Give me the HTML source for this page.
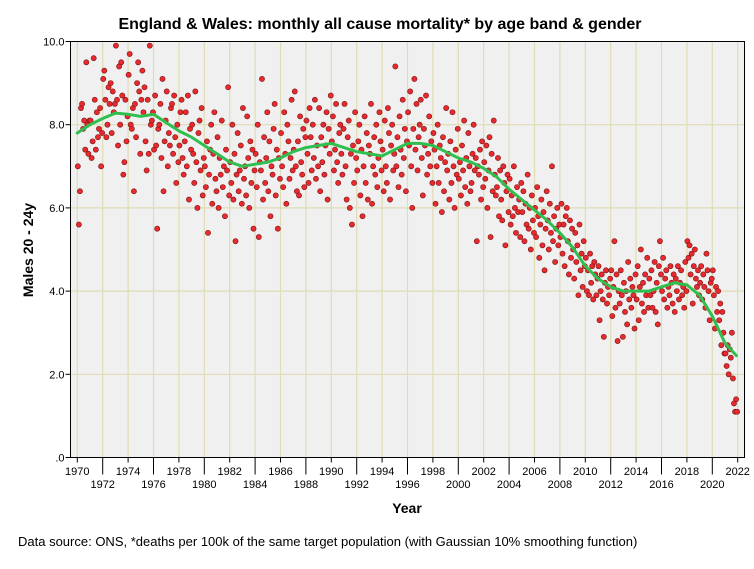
<!DOCTYPE html>
<html><head><meta charset="utf-8"><style>
body{margin:0;background:#fff;}
svg text{font-family:"Liberation Sans",sans-serif;}
</style></head><body>
<svg id="chart" width="754" height="564" xmlns="http://www.w3.org/2000/svg">
<rect width="754" height="564" fill="#fff"/>
<text x="380" y="29" text-anchor="middle" font-size="16" font-weight="bold">England &amp; Wales: monthly all cause mortality* by age band &amp; gender</text>
<rect x="70.5" y="41.5" width="674" height="416" fill="#f0f0f0"/>
<g id="grid"></g>
<g id="axes"></g>
<g id="points"></g>
<g id="smooth"></g>
<rect x="70.5" y="41.5" width="674" height="416" fill="none" stroke="#000" stroke-width="1"/>
<text transform="translate(33,250) rotate(-90)" text-anchor="middle" font-size="14" font-weight="bold">Males 20 - 24y</text>
<text x="407" y="513" text-anchor="middle" font-size="14" font-weight="bold">Year</text>
<text x="18" y="546" font-size="13">Data source: ONS, *deaths per 100k of the same target population (with Gaussian 10% smoothing function)</text>
</svg>
<script>
const startYear = 1970;
const yTicks = [0, 2, 4, 6, 8, 10];
const yTickLabels = [".0", "2.0", "4.0", "6.0", "8.0", "10.0"];
const xTicks = [1970,1972,1974,1976,1978,1980,1982,1984,1986,1988,1990,1992,1994,1996,1998,2000,2002,2004,2006,2008,2010,2012,2014,2016,2018,2020,2022];
const monthly = [
7.0,5.6,6.4,8.4,8.5,7.9,8.1,7.4,9.5,8.0,7.3,8.1,
8.1,7.2,7.6,9.6,8.6,7.4,8.3,7.7,7.9,8.4,7.0,7.8,
9.1,9.3,8.6,7.7,8.0,8.9,8.5,9.0,7.8,8.8,8.3,8.5,
9.9,8.6,7.5,9.4,8.0,9.5,8.7,6.8,7.1,8.6,7.6,8.2,
9.2,9.7,8.0,7.9,8.4,6.4,8.5,7.7,9.0,9.5,8.8,7.3,
8.6,9.3,8.3,8.9,7.6,6.9,8.6,7.3,9.9,8.0,8.1,8.3,
7.4,8.7,7.5,5.5,7.9,8.0,8.5,7.2,9.1,6.4,7.6,8.1,
8.8,7.0,7.8,7.5,8.4,8.5,7.3,8.7,7.7,6.6,8.0,7.1,
7.5,8.3,8.6,7.2,6.8,7.6,8.3,7.0,8.7,6.2,7.9,7.4,
8.0,7.3,6.6,8.8,7.1,6.0,7.8,8.1,6.9,8.4,6.3,7.2,
7.0,6.5,7.6,5.4,6.8,7.4,8.0,6.1,7.3,8.3,6.7,6.4,
7.7,6.0,7.2,6.8,8.1,6.5,7.0,5.8,7.4,6.9,8.9,6.3,
7.1,6.6,8.0,6.2,7.3,5.2,6.8,7.8,6.4,6.9,7.5,6.1,
8.4,6.7,7.0,6.3,8.2,7.2,6.0,7.6,6.6,7.4,5.5,6.9,
7.3,6.5,8.0,5.3,7.1,6.9,9.1,6.2,7.7,6.6,7.2,8.3,
6.4,7.6,5.8,7.0,6.8,7.9,8.5,6.3,7.4,5.5,7.2,6.7,
7.8,7.0,6.5,8.3,7.3,6.1,8.0,7.6,6.7,7.2,8.6,6.9,
7.4,8.8,7.0,6.4,7.6,6.3,8.2,7.1,6.8,7.9,6.5,7.7,
8.1,7.3,6.6,8.4,7.7,6.9,8.0,7.2,8.6,6.7,7.5,7.0,
8.4,6.4,7.7,7.1,8.0,6.8,7.5,8.3,6.2,7.9,7.3,8.7,
7.6,8.2,6.9,7.4,8.5,7.1,6.6,7.8,8.0,7.3,6.8,7.9,
8.5,7.0,6.2,7.7,8.1,6.0,7.3,5.6,7.5,6.6,8.3,7.2,
6.9,7.6,8.0,6.3,7.4,5.8,7.0,8.2,6.6,7.8,6.2,7.5,
7.3,8.5,6.1,7.0,7.7,6.8,8.0,6.5,7.2,8.3,7.6,6.9,
7.4,6.4,8.1,7.0,6.6,8.4,7.8,6.2,7.5,8.0,6.9,7.3,
9.4,7.0,7.7,6.5,8.2,7.4,6.8,8.6,7.2,7.9,6.4,7.6,
8.3,7.5,8.8,7.0,6.0,7.9,9.1,7.4,8.5,6.9,7.7,8.0,
8.6,7.2,6.3,7.9,7.5,8.7,6.8,7.3,8.2,7.0,7.6,6.6,
7.8,7.4,6.1,7.0,8.0,6.6,7.5,7.2,5.9,7.7,6.4,7.1,
8.4,6.9,7.3,6.2,7.6,6.6,8.3,7.0,6.0,7.4,6.8,7.9,
6.7,7.1,6.3,7.5,6.9,8.1,6.5,7.2,6.1,7.8,7.0,6.4,
6.6,7.3,8.0,6.9,7.2,5.2,7.0,6.8,7.4,6.2,7.6,6.5,
7.1,6.7,7.5,6.0,6.9,7.7,5.3,7.3,6.4,8.1,6.8,6.3,
6.5,7.2,5.8,6.9,6.2,5.7,7.0,6.6,5.1,6.4,6.8,5.9,
6.7,5.6,6.3,5.8,7.0,6.0,5.4,6.5,5.9,6.2,5.3,6.6,
5.9,6.4,5.2,6.1,5.6,6.8,5.5,6.0,5.0,6.3,5.7,5.4,
6.0,5.3,6.5,5.8,4.8,5.6,6.2,5.1,5.9,4.5,5.5,6.4,
5.7,5.0,6.1,5.4,7.0,5.2,5.8,4.7,5.5,6.0,5.1,5.6,
5.3,6.1,4.9,5.6,4.6,5.8,6.0,5.2,4.4,5.7,4.8,5.5,
5.0,4.3,5.4,4.7,5.1,3.9,5.6,4.5,4.9,4.1,5.2,4.6,
4.8,4.0,4.5,3.9,4.9,4.2,4.6,3.8,4.7,4.4,3.9,4.3,
4.6,3.3,4.0,4.4,3.8,2.9,4.2,4.5,3.7,4.1,3.9,4.3,
4.5,3.4,4.1,5.2,3.6,4.4,2.8,4.0,3.7,4.5,3.9,2.9,
4.2,3.5,4.0,3.2,4.7,3.8,4.3,3.6,4.1,3.9,3.1,4.4,
3.8,4.6,3.3,4.1,5.0,3.7,4.2,3.5,4.4,3.9,4.8,3.6,
4.3,3.9,4.5,3.6,4.0,4.7,3.5,4.2,3.2,4.6,5.2,4.4,
4.0,4.8,3.8,4.3,4.5,3.6,4.1,3.9,4.6,4.2,3.7,4.4,
3.5,4.3,4.0,4.6,3.8,4.2,4.5,3.9,4.1,3.6,4.7,4.0,
5.2,4.8,5.1,4.4,4.9,3.7,4.6,5.0,4.3,4.1,4.5,3.9,
4.2,4.6,3.8,4.4,4.1,3.6,4.9,4.5,4.0,3.3,4.2,4.3,
4.5,3.9,3.1,4.1,3.5,4.0,3.3,3.7,2.7,3.5,3.0,2.5,
2.5,2.2,2.7,2.0,2.6,2.4,3.0,1.9,1.3,1.1,1.4,1.1];
const smoothYears = [1970,1971,1972,1973,1974,1975,1976,1977,1978,1979,1980,1981,1982,1983,1984,1985,1986,1987,1988,1989,1990,1991,1992,1993,1994,1995,1996,1997,1998,1999,2000,2001,2002,2003,2004,2005,2006,2007,2008,2009,2010,2011,2012,2013,2014,2015,2016,2017,2018,2019,2020,2021,2021.9];
const smoothValues = [7.8,8.0,8.15,8.28,8.25,8.2,8.25,8.05,7.85,7.7,7.5,7.3,7.1,7.0,7.05,7.1,7.2,7.35,7.45,7.5,7.55,7.45,7.35,7.3,7.25,7.4,7.55,7.55,7.5,7.35,7.2,7.1,6.95,6.75,6.45,6.2,5.95,5.7,5.4,5.05,4.6,4.3,4.1,4.0,4.0,4.0,4.1,4.2,4.15,3.9,3.4,2.75,2.45];

const NS = "http://www.w3.org/2000/svg";
const L = 70.5, R = 744.5, T = 41.5, B = 457.5;
function xS(yr){ return 77.3 + (yr - 1970) * 12.7; }
function yS(v){ return B - (v / 10) * (B - T); }
function mk(tag, attrs, parent){
  const e = document.createElementNS(NS, tag);
  for (const k in attrs) e.setAttribute(k, attrs[k]);
  parent.appendChild(e); return e;
}
const grid = document.getElementById('grid');
const axes = document.getElementById('axes');
xTicks.forEach((t, i) => {
  const x = xS(t);
  const gl = mk('line', {x1:x, x2:x, y1:T, y2:B, stroke:'#e0dcb4', 'stroke-width':1.2}, grid);
  
  
  const up = i % 2 === 0;
  const tk = mk('line', {x1:x, x2:x, y1:B, y2:B + (up ? 5 : 17), stroke:'#000'}, axes);
  
  
  const tx = mk('text', {x:x, y: up ? 475 : 488, 'text-anchor':'middle', 'font-size':11}, axes);
  tx.textContent = t;
  
  
});
yTicks.forEach((t, i) => {
  const y = yS(t);
  if (t > 0 && t < 10) {
    const gl = mk('line', {x1:L, x2:R, y1:y, y2:y, stroke:'#e0dcb4', 'stroke-width':1.2}, grid);
    
    
  }
  const tk = mk('line', {x1:L - 5, x2:L, y1:y, y2:y, stroke:'#000'}, axes);
  
  
  const tx = mk('text', {x:L - 6, y:y + 4, 'text-anchor':'end', 'font-size':11}, axes);
  tx.textContent = yTickLabels[i];
  
  
});
const pts = document.getElementById('points');
monthly.forEach((v, i) => {
  const yr = startYear + (i + 0.5) / 12;
  const c = mk('circle', {cx:xS(yr), cy:yS(v), r:2.6, fill:'#e8292e', stroke:'#7a1515', 'stroke-width':0.6}, pts);
  
  
});
const sm = document.getElementById('smooth');
let d = '';
smoothYears.forEach((yr, i) => { d += (i ? 'L' : 'M') + xS(yr).toFixed(1) + ',' + yS(smoothValues[i]).toFixed(1); });
const p = mk('path', {d:d, fill:'none', stroke:'#2fbf4f', 'stroke-width':3, 'stroke-linejoin':'round', 'stroke-linecap':'round'}, sm);


</script>
</body></html>
